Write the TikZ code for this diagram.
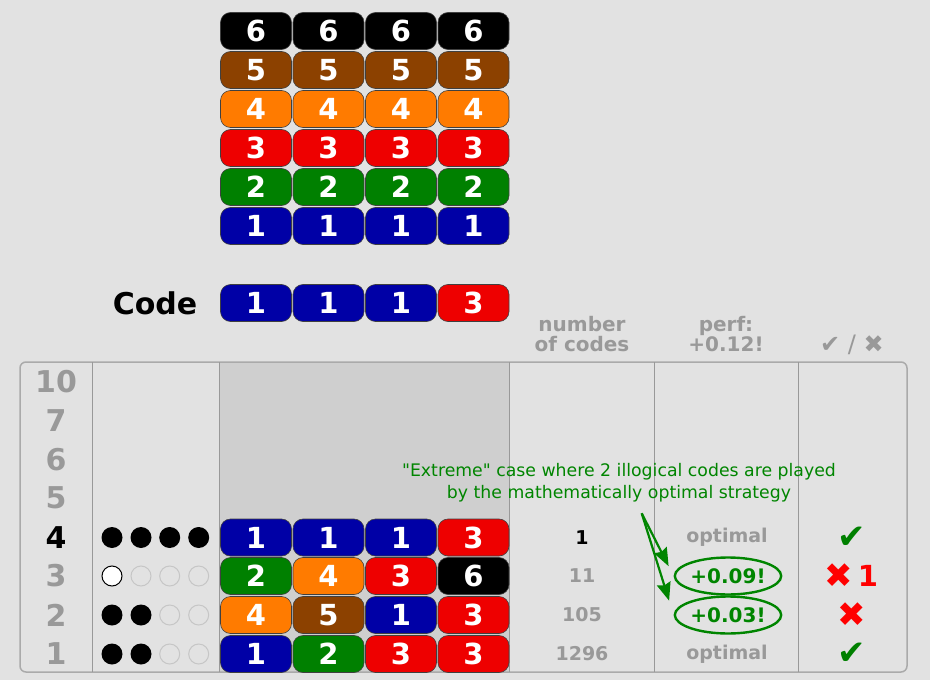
\documentclass[tikz,border=0pt]{standalone}
\usepackage{fontspec}
\setmainfont{DejaVu Sans}
\setsansfont{DejaVu Sans}
\usetikzlibrary{shapes.geometric,arrows.meta}
\definecolor{bg}{HTML}{E2E2E2}
\definecolor{colshade}{HTML}{CFCFCF}
\definecolor{frame}{HTML}{AAAAAA}
\definecolor{txtgray}{HTML}{999999}
\definecolor{pblue}{HTML}{0000A6}
\definecolor{pgreen}{HTML}{008000}
\definecolor{pred}{HTML}{EE0000}
\definecolor{markred}{HTML}{FF0000}
\definecolor{porange}{HTML}{FF7B00}
\definecolor{pbrown}{HTML}{8C4100}
\definecolor{pblack}{HTML}{000000}
\definecolor{anngreen}{HTML}{008500}
\definecolor{emptydot}{HTML}{C6C6C6}
\tikzset{
  peg/.style={draw=black!75, line width=0.6pt, rounded corners=10pt,
    minimum width=71pt, minimum height=37pt, inner sep=0pt, text=white,
    font=\fontsize{29}{30}\selectfont\bfseries},
  rownum/.style={font=\fontsize{30}{30}\selectfont\bfseries, text=txtgray},
  hdr/.style={font=\fontsize{20}{22}\selectfont\bfseries, text=txtgray, align=center},
  cnt/.style={font=\fontsize{19}{20}\selectfont\bfseries, text=txtgray},
  dotfull/.style={circle, fill=black, minimum size=21pt, inner sep=0pt},
  dotwhite/.style={circle, fill=white, draw=black, line width=1pt, minimum size=20pt, inner sep=0pt},
  dotempty/.style={circle, draw=emptydot, line width=1pt, minimum size=20pt, inner sep=0pt},
  hilite/.style={ellipse, draw=anngreen, line width=2.4pt, minimum width=90pt, minimum height=37pt, inner sep=0pt,
    text=anngreen, font=\fontsize{20}{20}\selectfont\bfseries},
  annarrow/.style={draw=anngreen, line width=2.2pt, -{Stealth[length=18pt,width=14pt,inset=2pt]}},
  okmark/.style={text=pgreen, font=\fontsize{34}{34}\selectfont},
  komark/.style={text=markred, font=\fontsize{34}{34}\selectfont},
}
\begin{document}
\begin{tikzpicture}[x=1pt,y=-1pt]
\useasboundingbox (0,0) rectangle (930,680);
\fill[bg] (0,0) rectangle (930,680);
% palette
\foreach \n/\c/\y in {6/pblack/31, 5/pbrown/70, 4/porange/109, 3/pred/148, 2/pgreen/187, 1/pblue/226}{
  \foreach \i/\x in {1/256, 2/328.5, 3/401, 4/473.5}{
    \node[peg, fill=\c] (p\n\i) at (\x,\y) {\n};
  }
}
% code
\node[font=\fontsize{30}{30}\selectfont\bfseries] (codelbl) at (155,303) {Code};
\node[peg, fill=pblue] (c1) at (256,303) {1};
\node[peg, fill=pblue] (c2) at (328.5,303) {1};
\node[peg, fill=pblue] (c3) at (401,303) {1};
\node[peg, fill=pred] (c4) at (473.5,303) {3};
% headers
\node[hdr] (h1) at (582,334.5) {number\\[-2pt]of codes};
\node[hdr] (h2) at (726,334.5) {perf:\\[-2pt]+0.12!};
\node[hdr, font=\fontsize{24}{24}\selectfont] (h3) at (852,345) {✔ / ✖};
% table
\fill[colshade] (219.3,362) rectangle (509,672);
\draw[frame, line width=1.5pt, rounded corners=6pt] (20,362) rectangle (907,672);
\foreach \x in {92.7,219.3,509,654.3,798.7}{
  \draw[txtgray, line width=1pt] (\x,362) -- (\x,672);
}
% row numbers
\node[rownum] (r10) at (56,382) {10};
\node[rownum] (r7) at (56,421) {7};
\node[rownum] (r6) at (56,459.5) {6};
\node[rownum] (r5) at (56,498) {5};
\node[rownum, text=black] (r4) at (56,537.5) {4};
\node[rownum] (r3) at (56,576) {3};
\node[rownum] (r2) at (56,615) {2};
\node[rownum] (r1) at (56,654) {1};
% dots
\foreach \i/\x in {1/112, 2/141, 3/169.7, 4/198.7}{ \node[dotfull] (d4\i) at (\x,537.5) {}; }
\node[dotwhite] (d31) at (112,576) {};
\foreach \i/\x in {2/141, 3/169.7, 4/198.7}{ \node[dotempty] (d3\i) at (\x,576) {}; }
\foreach \r/\y in {2/615, 1/654}{
  \node[dotfull] (d\r1) at (112,\y) {};
  \node[dotfull] (d\r2) at (141,\y) {};
  \node[dotempty] (d\r3) at (169.7,\y) {};
  \node[dotempty] (d\r4) at (198.7,\y) {};
}
% guesses
\node[peg, fill=pblue] (g41) at (256,537.5) {1};
\node[peg, fill=pblue] (g42) at (328.5,537.5) {1};
\node[peg, fill=pblue] (g43) at (401,537.5) {1};
\node[peg, fill=pred] (g44) at (473.5,537.5) {3};
\node[peg, fill=pgreen] (g31) at (256,576) {2};
\node[peg, fill=porange] (g32) at (328.5,576) {4};
\node[peg, fill=pred] (g33) at (401,576) {3};
\node[peg, fill=pblack] (g34) at (473.5,576) {6};
\node[peg, fill=porange] (g21) at (256,615) {4};
\node[peg, fill=pbrown] (g22) at (328.5,615) {5};
\node[peg, fill=pblue] (g23) at (401,615) {1};
\node[peg, fill=pred] (g24) at (473.5,615) {3};
\node[peg, fill=pblue] (g11) at (256,654) {1};
\node[peg, fill=pgreen] (g12) at (328.5,654) {2};
\node[peg, fill=pred] (g13) at (401,654) {3};
\node[peg, fill=pred] (g14) at (473.5,654) {3};
% counts
\node[cnt, text=black] (n4) at (582,537.5) {1};
\node[cnt] (n3) at (582,576) {11};
\node[cnt] (n2) at (582,615) {105};
\node[cnt] (n1) at (582,654) {1296};
% perf
\node[cnt] (q4) at (727,537.5) {optimal};
\node[hilite] (e3) at (728,576) {+0.09!};
\node[hilite] (e2) at (728,615) {+0.03!};
\node[cnt] (q1) at (727,654) {optimal};
% marks
\node[okmark] (m4) at (852,537.5) {✔};
\node[komark] (m3) at (838.5,576) {✖};
\node[text=markred, font=\fontsize{29}{29}\selectfont\bfseries] (m3b) at (868,576) {1};
\node[komark] (m2) at (852,615) {✖};
\node[okmark] (m1) at (852,654) {✔};
% annotation
\node[text=anngreen, font=\fontsize{17.3}{22}\selectfont, align=center] (ann) at (619,483) {\textquotedbl Extreme\textquotedbl{} case where 2 illogical codes are played\\by the mathematically optimal strategy};
\coordinate (src) at (641.7,513.3);
\draw[annarrow, shorten >=11pt] (src) -- (e3.180);
\draw[annarrow, shorten >=15pt] (src) -- (e2.180);
\end{tikzpicture}
\end{document}
